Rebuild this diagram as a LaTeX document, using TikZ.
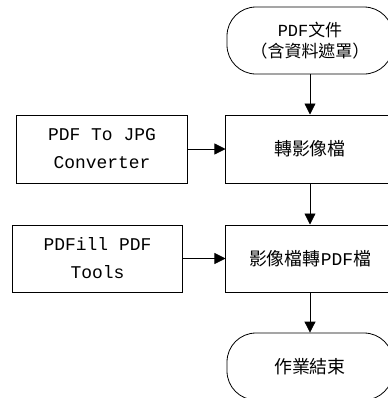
\documentclass[tikz,border=0pt]{standalone}
\usepackage{fontspec}
\setmainfont{Liberation Mono}
\newfontfamily\cjk{Noto Sans CJK TC}
\usetikzlibrary{arrows.meta}
\tikzset{
  box/.style={draw, line width=1bp, minimum width=168bp, minimum height=68bp, inner sep=0pt, align=center},
  term/.style={box, minimum width=166bp, minimum height=67bp, rounded corners=29bp, line width=0.8bp},
  flow/.style={-{Triangle[length=11bp,width=11bp]}, line width=0.8bp},
  lat/.style={font={\fontsize{18}{28}\selectfont}},
  han/.style={font={\fontsize{18}{21}\selectfont\cjk}}
}
\begin{document}
\begin{tikzpicture}[x=1bp,y=-1bp]
    \useasboundingbox (0,0) rectangle (388,398);
    \clip (0,0) rectangle (388,398);
    % right column
    \node[term, font={\fontsize{17}{21}\selectfont}] (start) at (310,40.5) {PDF{\cjk 文件}\\{\cjk （含資料遮罩）}};
    \node[box, han] (conv) at (310,149) {轉影像檔};
    \node[box, han, minimum height=67bp] (topdf) at (310,258.5) {影像檔轉{\rmfamily PDF}檔};
    \node[term, han] (end) at (310,366.5) {作業結束};
    % tools
    \node[box, lat, minimum width=170bp] (jpg) at (102,149) {PDF To JPG\\Converter};
    \node[box, lat, minimum width=169bp, minimum height=67bp] (pdfill) at (97.5,258.5) {PDFill PDF\\Tools};
    \draw[flow] (start) -- (conv);
    \draw[flow] (conv) -- (topdf);
    \draw[flow] (topdf) -- (end);
    \draw[flow] (jpg) -- (conv);
    \draw[flow] (pdfill) -- (topdf);
\end{tikzpicture}
\end{document}
